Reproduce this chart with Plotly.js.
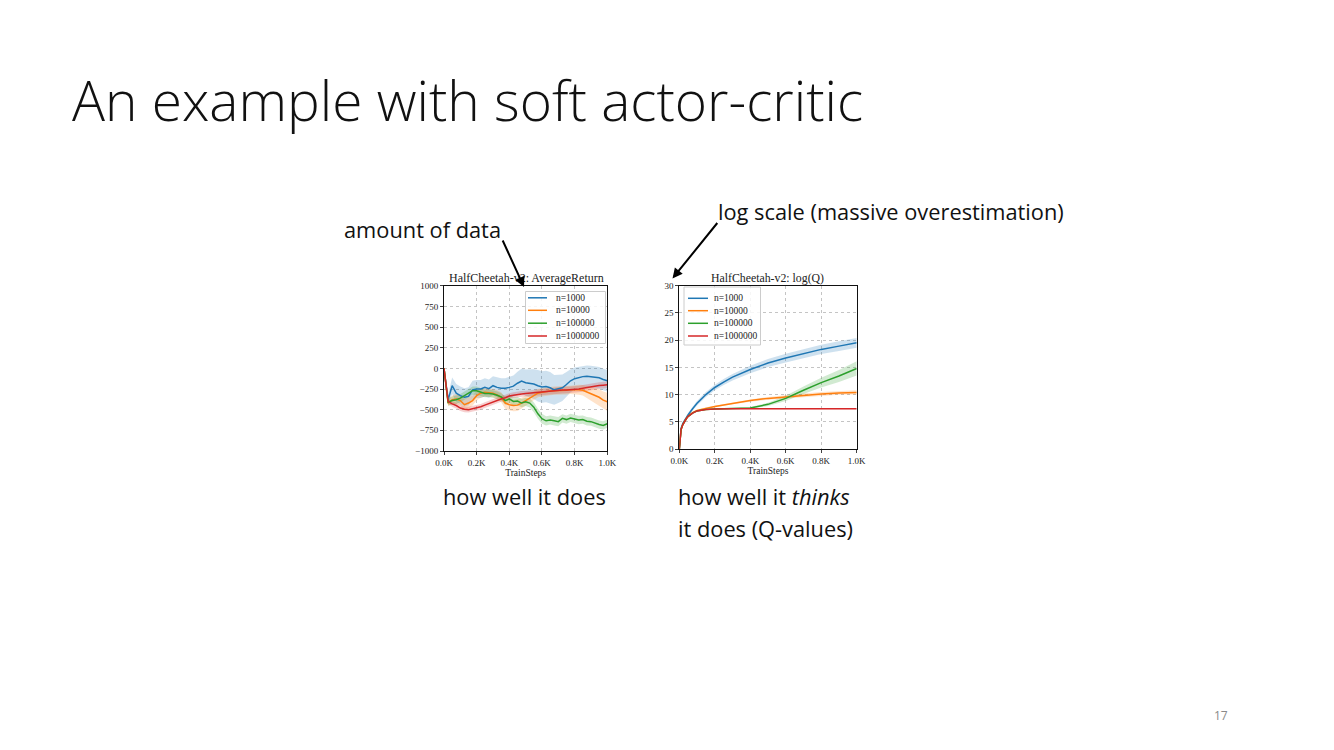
<!DOCTYPE html>
<html><head><meta charset="utf-8">
<script src="https://cdn.plot.ly/plotly-3.0.1.min.js"></script>
<style>html,body{margin:0;padding:0;background:#fff;}#chart{width:1334px;height:750px;}</style>
</head><body><div id="chart"></div>
<script>
// ---------- data ----------
const seriesNames = ['n=1000', 'n=10000', 'n=100000', 'n=1000000'];
const seriesColors = ['#1f77b4', '#ff7f0e', '#2ca02c', '#d62728'];
const bandColors = ['rgba(31,119,180,0.22)', 'rgba(255,127,14,0.22)', 'rgba(44,160,44,0.22)', 'rgba(214,39,40,0.22)'];

// Left chart: HalfCheetah-v2: AverageReturn
const returnSteps = [0,25,50,75,100,125,150,175,200,225,250,275,300,325,350,375,400,425,450,475,500,525,550,575,600,625,650,675,700,725,750,775,800,825,850,875,900,925,950,975,1000];
const returnN1000 = [0,-380,-210,-300,-330,-350,-340,-260,-250,-250,-230,-245,-210,-230,-240,-240,-230,-215,-180,-155,-175,-180,-190,-210,-225,-220,-235,-260,-250,-235,-195,-150,-125,-110,-100,-95,-100,-105,-115,-135,-150];
const returnN10000 = [0,-420,-380,-370,-390,-440,-420,-390,-330,-300,-290,-295,-300,-320,-350,-420,-440,-450,-445,-420,-390,-360,-330,-300,-290,-280,-275,-270,-270,-265,-265,-260,-255,-258,-265,-285,-305,-330,-350,-385,-405];
const returnN100000 = [0,-410,-390,-380,-360,-330,-310,-270,-270,-290,-305,-305,-310,-325,-345,-390,-370,-400,-395,-420,-405,-420,-470,-550,-610,-635,-625,-635,-645,-605,-620,-600,-610,-625,-620,-640,-645,-665,-680,-690,-670];
const returnN1000000 = [0,-400,-430,-450,-480,-495,-500,-490,-483,-465,-445,-425,-405,-385,-370,-355,-335,-325,-315,-310,-305,-300,-295,-290,-285,-278,-272,-268,-265,-263,-262,-260,-255,-250,-242,-232,-222,-215,-208,-203,-198];
const returnSpreadN1000 = [0,60,100,110,110,110,110,110,110,110,110,110,115,120,120,120,125,130,140,150,160,170,180,190,190,190,190,180,170,160,150,140,135,130,130,130,130,130,130,130,130];
const returnSpreadN10000 = [0,40,50,60,60,70,70,60,60,55,50,50,50,55,60,70,70,70,70,65,60,55,55,50,50,50,50,50,50,50,50,50,55,60,65,75,85,95,100,105,110];
const returnSpreadN100000 = [0,40,50,50,50,50,50,50,50,45,45,45,45,45,45,50,50,50,50,50,50,55,60,60,60,55,55,55,55,50,50,50,50,50,50,50,50,50,50,50,50];
const returnSpreadN1000000 = [0,30,35,35,35,35,35,35,35,35,35,35,35,35,35,35,35,35,35,35,35,35,35,35,40,40,40,40,40,40,40,40,40,40,40,40,40,40,40,40,40];

// Right chart: HalfCheetah-v2: log(Q)
const qSteps = [0,5,10,20,30,40,50,75,100,150,200,250,300,400,500,600,700,800,900,1000];
const logQN1000 = [0,3.0,3.8,4.7,5.3,5.8,6.3,7.4,8.4,10.0,11.3,12.3,13.2,14.6,15.8,16.7,17.5,18.3,18.9,19.5];
const logQN10000 = [0,2.8,3.6,4.5,5.1,5.6,6.0,6.7,7.1,7.5,7.8,8.1,8.4,8.9,9.3,9.6,9.9,10.1,10.3,10.4];
const logQN100000 = [0,2.8,3.6,4.5,5.1,5.6,6.0,6.6,7.0,7.25,7.35,7.4,7.45,7.55,8.2,9.3,10.8,12.2,13.4,14.8];
const logQN1000000 = [0,2.8,3.6,4.5,5.1,5.6,6.0,6.6,7.0,7.25,7.35,7.4,7.4,7.4,7.4,7.4,7.4,7.4,7.4,7.4];
const logQSpreadN1000 = [0,0.1,0.15,0.2,0.25,0.3,0.3,0.35,0.4,0.45,0.5,0.55,0.6,0.7,0.75,0.8,0.85,0.85,0.9,0.9];
const logQSpreadN10000 = [0,0.05,0.05,0.1,0.1,0.1,0.1,0.1,0.1,0.15,0.15,0.15,0.2,0.2,0.25,0.3,0.3,0.35,0.35,0.4];
const logQSpreadN100000 = [0,0.05,0.05,0.1,0.1,0.1,0.1,0.1,0.1,0.1,0.1,0.1,0.1,0.15,0.3,0.5,0.7,0.9,1.1,1.3];
const logQSpreadN1000000 = [0,0.05,0.05,0.1,0.1,0.1,0.1,0.1,0.1,0.1,0.1,0.1,0.1,0.1,0.1,0.1,0.1,0.1,0.1,0.1];

// Tick labels
const stepTickVals = [0,200,400,600,800,1000];
const stepTickText = ['0.0K','0.2K','0.4K','0.6K','0.8K','1.0K'];
const returnTickVals = [1000,750,500,250,0,-250,-500,-750,-1000];
const returnTickText = ['1000','750','500','250','0','\u2212250','\u2212500','\u2212750','\u22121000'];
const logQTickVals = [0,5,10,15,20,25,30];
const logQTickText = ['0','5','10','15','20','25','30'];

// ---------- build ----------
const W = 1334, H = 750;
const px = x => x / W;
const py = y => 1 - y / H;

const returnMeans = [returnN1000, returnN10000, returnN100000, returnN1000000];
const returnSpreads = [returnSpreadN1000, returnSpreadN10000, returnSpreadN100000, returnSpreadN1000000];
const logQMeans = [logQN1000, logQN10000, logQN100000, logQN1000000];
const logQSpreads = [logQSpreadN1000, logQSpreadN10000, logQSpreadN100000, logQSpreadN1000000];

const traces = [];
function addBands(xs, means, spreads, xa, ya) {
  means.forEach((m, i) => {
    const s = spreads[i];
    traces.push({x: xs, y: m.map((v, k) => v - s[k]), xaxis: xa, yaxis: ya, type: 'scatter', mode: 'lines',
      line: {width: 0, color: bandColors[i]}, showlegend: false, hoverinfo: 'skip'});
    traces.push({x: xs, y: m.map((v, k) => v + s[k]), xaxis: xa, yaxis: ya, type: 'scatter', mode: 'lines',
      line: {width: 0, color: bandColors[i]}, fill: 'tonexty', fillcolor: bandColors[i], showlegend: false, hoverinfo: 'skip'});
  });
}
function addLines(xs, means, xa, ya) {
  means.forEach((m, i) => {
    traces.push({x: xs, y: m, xaxis: xa, yaxis: ya, type: 'scatter', mode: 'lines', name: seriesNames[i],
      line: {width: 1.5, color: seriesColors[i]}, showlegend: false});
  });
}
addBands(returnSteps, returnMeans, returnSpreads, 'x', 'y');
addBands(qSteps, logQMeans, logQSpreads, 'x2', 'y2');
addLines(returnSteps, returnMeans, 'x', 'y');
addLines(qSteps, logQMeans, 'x2', 'y2');

const serif = 'Liberation Serif, DejaVu Serif, serif';
const sans = 'Open Sans, Lato, sans-serif';
const tickFont = {family: serif, size: 9, color: '#222'};
function axisBase(extra) {
  return Object.assign({
    showgrid: true, gridcolor: '#c4c4c4', griddash: 'dot', gridwidth: 1,
    zeroline: false, showline: true, mirror: true, linecolor: '#111', linewidth: 1,
    ticks: 'outside', ticklen: 3, tickwidth: 0.8, tickcolor: '#111', tickfont: tickFont,
    fixedrange: true, tickmode: 'array'
  }, extra);
}

// matplotlib-style legend boxes (compact rows), built from the series names/colours
const shapes = [];
const annotations = [];
function drawLegend(box, rowYs, swatchL, swatchR, textL) {
  shapes.push({type: 'rect', xref: 'paper', yref: 'paper', layer: 'above',
    x0: px(box[0]), x1: px(box[2]), y0: py(box[3]), y1: py(box[1]),
    line: {color: '#cccccc', width: 1}, fillcolor: 'rgba(255,255,255,0.85)'});
  seriesNames.forEach((name, i) => {
    shapes.push({type: 'line', xref: 'paper', yref: 'paper', layer: 'above',
      x0: px(swatchL), x1: px(swatchR), y0: py(rowYs[i]), y1: py(rowYs[i]),
      line: {color: seriesColors[i], width: 1.5}});
    annotations.push({text: name, x: px(textL), y: py(rowYs[i]), xref: 'paper', yref: 'paper',
      xanchor: 'left', yanchor: 'middle', showarrow: false, borderpad: 0,
      font: {family: serif, size: 9.5, color: '#222'}});
  });
}
drawLegend([525.5, 291.5, 605.5, 343.5], [297.8, 310.3, 323.2, 336], 528, 547, 555);
drawLegend([684, 287, 760.5, 345], [298.3, 310.7, 323.3, 336], 688, 708, 713);

annotations.push(
  {text: 'An example with soft actor-critic', x: px(70), y: py(100), xref: 'paper', yref: 'paper',
    xanchor: 'left', yanchor: 'middle', showarrow: false,
    font: {family: sans, size: 55, weight: 300, color: '#111'}},
  {text: 'HalfCheetah-v2: AverageReturn', x: px(526), y: py(277.5), xref: 'paper', yref: 'paper',
    xanchor: 'center', yanchor: 'middle', showarrow: false, font: {family: serif, size: 12, color: '#222'}},
  {text: 'HalfCheetah-v2: log(Q)', x: px(768), y: py(278.5), xref: 'paper', yref: 'paper',
    xanchor: 'center', yanchor: 'middle', showarrow: false, font: {family: serif, size: 11.8, color: '#222'}},
  {text: 'amount of data', x: px(342), y: py(230), xref: 'paper', yref: 'paper',
    xanchor: 'left', yanchor: 'middle', showarrow: false, font: {family: sans, size: 21.8, color: '#111'}},
  {text: 'log scale (massive overestimation)', x: px(716), y: py(211), xref: 'paper', yref: 'paper',
    xanchor: 'left', yanchor: 'middle', showarrow: false, font: {family: sans, size: 21.8, color: '#111'}},
  {text: 'how well it does', x: px(441), y: py(497), xref: 'paper', yref: 'paper',
    xanchor: 'left', yanchor: 'middle', showarrow: false, font: {family: sans, size: 21.8, color: '#111'}},
  {text: 'how well it <i>thinks</i>', x: px(676), y: py(497), xref: 'paper', yref: 'paper',
    xanchor: 'left', yanchor: 'middle', showarrow: false, font: {family: sans, size: 21.8, color: '#111'}},
  {text: 'it does (Q-values)', x: px(676), y: py(528), xref: 'paper', yref: 'paper',
    xanchor: 'left', yanchor: 'middle', showarrow: false, font: {family: sans, size: 21.8, color: '#111'}},
  {text: '17', x: px(1221), y: py(715), xref: 'paper', yref: 'paper',
    xanchor: 'center', yanchor: 'middle', showarrow: false, font: {family: sans, size: 12, color: '#8a8a8a'}},
  // arrows
  {text: '', x: px(524), y: py(287), xref: 'paper', yref: 'paper', showarrow: true,
    ax: -22, ay: -48, arrowhead: 2, arrowsize: 1, arrowwidth: 2, arrowcolor: '#000'},
  {text: '', x: px(672.5), y: py(278.5), xref: 'paper', yref: 'paper', showarrow: true,
    ax: 46, ay: -57, arrowhead: 2, arrowsize: 1, arrowwidth: 2, arrowcolor: '#000'}
);

const layout = {
  width: W, height: H,
  margin: {l: 0, r: 0, t: 0, b: 0},
  paper_bgcolor: '#ffffff', plot_bgcolor: '#ffffff',
  showlegend: false,
  xaxis: axisBase({domain: [px(444), px(607.3)], range: [0, 1000], anchor: 'y',
    tickvals: stepTickVals, ticktext: stepTickText,
    title: {text: 'TrainSteps', font: {family: serif, size: 9.5, color: '#222'}, standoff: 1}}),
  yaxis: axisBase({domain: [py(451), py(285.7)], range: [-1000, 1000], anchor: 'x',
    tickvals: returnTickVals, ticktext: returnTickText}),
  xaxis2: axisBase({domain: [px(679.3), px(856.7)], range: [0, 1000], anchor: 'y2',
    tickvals: stepTickVals, ticktext: stepTickText,
    title: {text: 'TrainSteps', font: {family: serif, size: 9.5, color: '#222'}, standoff: 1}}),
  yaxis2: axisBase({domain: [py(449), py(285.7)], range: [0, 30], anchor: 'x2',
    tickvals: logQTickVals, ticktext: logQTickText}),
  shapes: shapes,
  annotations: annotations
};

Plotly.newPlot('chart', traces, layout, {staticPlot: true, displayModeBar: false});
</script>
</body></html>
